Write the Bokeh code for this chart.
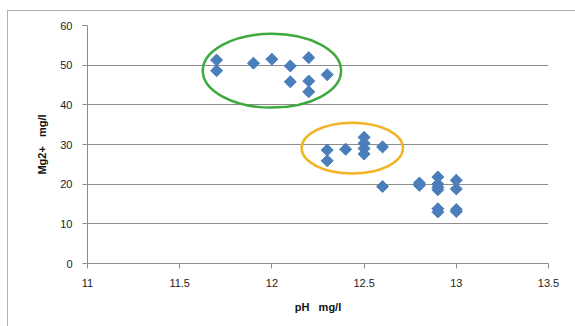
import math
from bokeh.plotting import figure
from bokeh.models import Range1d, FixedTicker
from bokeh.embed import file_html
from bokeh.resources import INLINE

ph = [11.7, 11.7, 11.9, 12.0, 12.1, 12.1, 12.2, 12.2, 12.2, 12.3,
      12.3, 12.3, 12.4, 12.5, 12.5, 12.5, 12.5, 12.6,
      12.6, 12.8, 12.8, 12.9, 12.9, 12.9, 12.9, 12.9, 12.9,
      13.0, 13.0, 13.0, 13.0]
mg = [51.3, 48.6, 50.5, 51.5, 49.8, 45.8, 51.9, 46.0, 43.3, 47.6,
      28.6, 25.9, 28.8, 31.8, 30.3, 29.0, 27.6, 29.4,
      19.4, 20.3, 19.7, 21.8, 20.0, 19.2, 18.6, 13.8, 13.0,
      21.0, 18.8, 13.6, 13.1]

ellipse_x = [12.0, 12.436]
ellipse_y = [48.6, 29.1]
ellipse_w = [0.75, 0.55]
ellipse_h = [18.6, 12.8]
ellipse_colors = ["#3DAA3D", "#F2B325"]

x_ticks = [11, 11.5, 12, 12.5, 13, 13.5]
y_ticks = [0, 10, 20, 30, 40, 50, 60]

p = figure(width=568, height=316, output_backend="svg", toolbar_location=None,
           x_range=Range1d(11, 13.5), y_range=Range1d(0, 60),
           min_border_left=79, min_border_right=28, min_border_top=14, min_border_bottom=64)
p.margin = (10, 0, 0, 7)
p.styles = {"border-top": "1px solid #b0b0b0", "border-left": "1px solid #b0b0b0"}
p.outline_line_color = None
p.background_fill_color = "white"
p.border_fill_color = "white"

p.xgrid.grid_line_color = None
p.ygrid.grid_line_color = "#8c8c8c"
p.ygrid.grid_line_width = 1
p.ygrid.ticker = FixedTicker(ticks=y_ticks)

for ax in (p.xaxis[0], p.yaxis[0]):
    ax.axis_line_color = "#8c8c8c"
    ax.major_tick_line_color = "#8c8c8c"
    ax.minor_tick_line_color = None
    ax.major_tick_in = 0
    ax.major_tick_out = 5
    ax.major_label_text_font = "Liberation Sans"
    ax.major_label_text_font_size = "11px"
    ax.major_label_text_color = "#222222"
    ax.axis_label_text_font = "Liberation Sans"
    ax.axis_label_text_font_size = "11px"
    ax.axis_label_text_font_style = "bold"
    ax.axis_label_text_color = "#111111"

p.xaxis.ticker = FixedTicker(ticks=x_ticks)
p.yaxis.ticker = FixedTicker(ticks=y_ticks)
p.xaxis.major_label_overrides = {11: "11", 11.5: "11.5", 12: "12", 12.5: "12.5", 13: "13", 13.5: "13.5"}
p.xaxis.axis_label = "pH\u00a0\u00a0\u00a0mg/l"
p.yaxis.axis_label = "Mg2+\u00a0\u00a0\u00a0mg/l"
p.xaxis.major_label_standoff = 10
p.xaxis.axis_label_standoff = 11
p.yaxis.major_label_standoff = 10
p.yaxis.axis_label_standoff = 9

p.scatter(ph, mg, marker="square", angle=math.pi / 4, size=8.5,
          fill_color="#4A7EBB", line_color="#4A7EBB", line_width=1)

p.ellipse(x=ellipse_x, y=ellipse_y, width=ellipse_w, height=ellipse_h,
          fill_color=None, line_color=ellipse_colors, line_width=2.5)

open("out.html", "w").write(file_html(p, INLINE))
